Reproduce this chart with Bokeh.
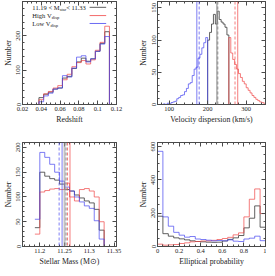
import numpy as np
from bokeh.plotting import figure
from bokeh.layouts import gridplot
from bokeh.models import FixedTicker, Label, Range1d, LinearAxis, Span
from bokeh.embed import file_html
from bokeh.resources import INLINE

FONT = "Liberation Serif"
AXIS_COLOR = "#4a4a4a"
C_MID, C_HIGH, C_LOW = "#3a3a3a", "#f04646", "#4646f0"

# ---------------- Panel 1: redshift (bin width 0.005) ----------------
z_edges = [0.0375, 0.0425, 0.0475, 0.0525, 0.0575, 0.0625, 0.0675, 0.0725, 0.0775,
           0.0825, 0.0875, 0.0925, 0.0975, 0.1025, 0.1075, 0.1125]
z_mid = [20, 30, 36, 45, 48, 77, 82, 105, 124, 135, 126, 133, 155, 178, 212]
z_high = [14, 31, 38, 48, 55, 72, 88, 110, 122, 128, 118, 130, 158, 181, 228]
z_low = [8, 25, 33, 45, 48, 84, 80, 106, 138, 142, 124, 133, 155, 176, 198]
z_xticks = [0.02, 0.04, 0.06, 0.08, 0.1, 0.12]
z_xlabels = ["0.02", "0.04", "0.06", "0.08", "0.1", "0.12"]
z_yticks = [0, 100, 200]
z_ylabels = ["0", "100", "200"]

# ---------------- Panel 2: velocity dispersion (bin width 5 km/s) ----------------
v_bin = 5
v_low_start, v_mid_start, v_high_start = 85, 200, 255
v_low = [1, 0, 2, 1, 3, 4, 5, 9, 11, 14, 15, 20, 25, 32, 34, 45, 55, 58, 72, 78, 88, 96, 104]
v_mid = [100, 112, 125, 140, 125, 145, 132, 128, 125, 120, 108]
v_high = [104, 80, 70, 62, 55, 48, 42, 36, 32, 26, 22, 18, 14, 11, 8, 6, 4, 3, 2]
v_lines_low = [172, 178]      # solid, dashed
v_lines_mid = [224, 226]      # solid, dashed
v_lines_high = [278, 271]     # solid, dashed
v_xticks = [100, 200, 300]
v_xlabels = ["100", "200", "300"]
v_yticks = [0, 50, 100, 150]
v_ylabels = ["0", "50", "100", "150"]

# ---------------- Panel 3: stellar mass (bin width 0.01) ----------------
m_edges = [11.19, 11.20, 11.21, 11.22, 11.23, 11.24, 11.25, 11.26, 11.27, 11.28,
           11.29, 11.30, 11.31, 11.32, 11.33]
m_low = [55, 190, 180, 166, 150, 132, 120, 112, 100, 90, 82, 77, 52, 15]
m_mid = [38, 150, 142, 137, 134, 126, 115, 112, 104, 98, 92, 88, 75, 33]
m_high = [25, 110, 113, 116, 117, 115, 128, 100, 92, 115, 117, 112, 100, 50]
m_lines_low = [11.245, 11.239]    # solid, dashed
m_lines_mid = [11.250, 11.253]
m_lines_high = [11.261, 11.256]
m_xticks = [11.2, 11.25, 11.3, 11.35]
m_xlabels = ["11.2", "11.25", "11.3", "11.35"]
m_yticks = [0, 50, 100, 150, 200]
m_ylabels = ["0", "50", "100", "150", "200"]

# ---------------- Panel 4: elliptical probability (bin width 0.05) ----------------
e_edges = [0.0, 0.05, 0.1, 0.15, 0.2, 0.25, 0.3, 0.35, 0.4, 0.45, 0.5, 0.55, 0.6,
           0.65, 0.7, 0.75, 0.8, 0.85, 0.9, 0.95, 1.0]
e_low = [572, 178, 122, 85, 68, 56, 60, 45, 42, 38, 34, 36, 34, 40, 32, 30, 45, 50, 62, 35]
e_mid = [182, 77, 62, 52, 46, 40, 34, 30, 28, 26, 25, 26, 33, 43, 52, 66, 112, 170, 244, 116]
e_high = [14, 8, 10, 12, 18, 22, 28, 30, 33, 34, 37, 42, 48, 55, 70, 82, 178, 284, 346, 198]
e_xticks = [0, 0.2, 0.4, 0.6, 0.8, 1]
e_xlabels = ["0", "0.2", "0.4", "0.6", "0.8", "1"]
e_yticks = [0, 200, 400, 600]
e_ylabels = ["0", "200", "400", "600"]

# legend (panel 1)
legend_rows = [("11.19 < M", "star", " < 11.33", C_MID),
               ("High V", "disp", "", C_HIGH),
               ("Low V", "disp", "", C_LOW)]


def make_fig(xr, yr, width, height, borders):
    p = figure(width=width, height=height, x_range=Range1d(*xr), y_range=Range1d(*yr),
               output_backend="svg", toolbar_location=None,
               min_border_left=borders[0], min_border_right=borders[1],
               min_border_top=borders[2], min_border_bottom=borders[3])
    p.grid.visible = False
    p.outline_line_color = AXIS_COLOR
    p.outline_line_width = 1
    return p


def style_axis(ax, ticker, labels, title, show_labels=True, vertical=False):
    ax.ticker = ticker
    ax.axis_line_color = AXIS_COLOR
    ax.major_tick_line_color = AXIS_COLOR
    ax.minor_tick_line_color = AXIS_COLOR
    ax.major_tick_in = 4
    ax.major_tick_out = 0
    ax.minor_tick_in = 2
    ax.minor_tick_out = 0
    if show_labels:
        ax.major_label_overrides = {t: s for t, s in zip(ticker.ticks, labels)}
        ax.major_label_text_font = FONT
        ax.major_label_text_font_size = "6.5px"
        ax.major_label_text_color = "#222222"
        ax.major_label_standoff = 2
        ax.axis_label = title
        ax.axis_label_text_font = FONT
        ax.axis_label_text_font_size = "7.8px"
        ax.axis_label_text_font_style = "normal"
        ax.axis_label_text_color = "#222222"
        ax.axis_label_standoff = 1
        if vertical:
            ax.major_label_orientation = "vertical"
    else:
        ax.major_label_text_color = None
        ax.major_label_text_font_size = "1px"
        ax.major_label_standoff = 0
        ax.axis_label = None


def setup(p, xt, xl, xtitle, yt, yl, ytitle):
    style_axis(p.xaxis[0], xt, xl, xtitle)
    style_axis(p.yaxis[0], yt, yl, ytitle, vertical=True)
    top = LinearAxis()
    style_axis(top, xt, xl, None, show_labels=False)
    p.add_layout(top, "above")
    right = LinearAxis()
    style_axis(right, yt, yl, None, show_labels=False)
    p.add_layout(right, "right")


def hist(p, edges, counts, color, lo=None, hi=None, alpha=0.8):
    xs = list(edges)
    ys = list(counts) + [0]
    if lo is not None and lo < xs[0]:
        xs = [lo] + xs
        ys = [0] + ys
    if hi is not None and hi > xs[-1]:
        xs = xs + [hi]
        ys = ys + [0]
    p.step(x=xs, y=ys, mode="after", line_color=color, line_width=1, line_alpha=alpha)


def vlines(p, locs, color, width=1, alpha=0.8):
    dashes = ["solid", "3 2"]
    for loc, dash in zip(locs, dashes):
        p.add_layout(Span(location=loc, dimension="height", line_color=color,
                          line_width=width, line_alpha=alpha, line_dash=dash))


LEFT_W, RIGHT_W = 132, 134
TOP_H, BOT_H = 134, 134

# ---- panel 1
p1 = make_fig((0.02, 0.12), (0, 300), LEFT_W, TOP_H, (14, 16, 1, 30))
setup(p1, FixedTicker(ticks=z_xticks, minor_ticks=list(np.arange(0.02, 0.1201, 0.005))),
      z_xlabels, "Redshift",
      FixedTicker(ticks=z_yticks, minor_ticks=list(range(0, 301, 20))), z_ylabels, "Number")
hist(p1, z_edges, z_mid, C_MID, lo=0.02)
hist(p1, z_edges, z_high, C_HIGH, lo=0.02, alpha=0.7)
hist(p1, z_edges, z_low, C_LOW, lo=0.02, alpha=0.7)
leg_x, leg_line = 0.0305, (0.0914, 0.109)
leg_y = [283, 259, 236]
main_w = [27.3, 19.3, 18.2]
for (txt, sub, rest, col), yy, w in zip(legend_rows, leg_y, main_w):
    p1.add_layout(Label(x=leg_x, y=yy, text=txt, text_font=FONT, text_font_size="6.5px",
                        text_baseline="middle", text_color="#222222"))
    p1.add_layout(Label(x=leg_x, y=yy, x_offset=w, y_offset=-2, text=sub, text_font=FONT,
                        text_font_size="4.5px", text_baseline="middle", text_color="#222222"))
    if rest:
        p1.add_layout(Label(x=leg_x, y=yy, x_offset=w + 6.5, text=rest, text_font=FONT,
                            text_font_size="6.5px", text_baseline="middle", text_color="#222222"))
    p1.segment(x0=[leg_line[0]], x1=[leg_line[1]], y0=[yy], y1=[yy], line_color=col,
               line_width=1, line_alpha=0.8)

# ---- panel 2
p2 = make_fig((70, 350), (0, 160), RIGHT_W, TOP_H, (25, 1, 1, 30))
setup(p2, FixedTicker(ticks=v_xticks, minor_ticks=list(range(80, 351, 20))), v_xlabels,
      "Velocity dispersion (km/s)",
      FixedTicker(ticks=v_yticks, minor_ticks=list(range(0, 161, 10))), v_ylabels, "Number")
v_lo, v_hi = 85, 350
hist(p2, [v_mid_start + v_bin * i for i in range(len(v_mid) + 1)], v_mid, C_MID, lo=v_lo, hi=v_hi)
hist(p2, [v_high_start + v_bin * i for i in range(len(v_high) + 1)], v_high, C_HIGH, lo=v_lo, hi=v_hi, alpha=0.7)
hist(p2, [v_low_start + v_bin * i for i in range(len(v_low) + 1)], v_low, C_LOW, lo=v_lo, hi=v_hi, alpha=0.7)
vlines(p2, v_lines_low, C_LOW, 1, 0.7)
vlines(p2, v_lines_mid, "#8a8a8a", 1.5, 0.7)
vlines(p2, v_lines_high, C_HIGH, 1, 0.7)

# ---- panel 3
p3 = make_fig((11.165, 11.355), (0, 210), LEFT_W, BOT_H, (14, 16, 8, 19))
setup(p3, FixedTicker(ticks=m_xticks, minor_ticks=list(np.arange(11.17, 11.3551, 0.01))), m_xlabels,
      "Stellar Mass (M\u2299)",
      FixedTicker(ticks=m_yticks, minor_ticks=list(range(0, 211, 10))), m_ylabels, "Number")
hist(p3, m_edges, m_mid, C_MID)
hist(p3, m_edges, m_high, C_HIGH, alpha=0.7)
hist(p3, m_edges, m_low, C_LOW, alpha=0.7)
vlines(p3, m_lines_low, C_LOW, 1, 0.7)
vlines(p3, m_lines_mid, "#9a9a9a", 2, 0.6)
vlines(p3, m_lines_high, C_HIGH, 1, 0.7)

# ---- panel 4
p4 = make_fig((0, 1), (0, 625), RIGHT_W, BOT_H, (25, 1, 8, 19))
setup(p4, FixedTicker(ticks=e_xticks, minor_ticks=list(np.arange(0, 1.001, 0.05))), e_xlabels,
      "Elliptical probability",
      FixedTicker(ticks=e_yticks, minor_ticks=list(range(0, 626, 50))), e_ylabels, "Number")
hist(p4, e_edges, e_mid, C_MID)
hist(p4, e_edges, e_high, C_HIGH, alpha=0.7)
hist(p4, e_edges, e_low, C_LOW, alpha=0.7)

grid = gridplot([[p1, p2], [p3, p4]], toolbar_location=None)
open("out.html", "w").write(file_html(grid, INLINE))
